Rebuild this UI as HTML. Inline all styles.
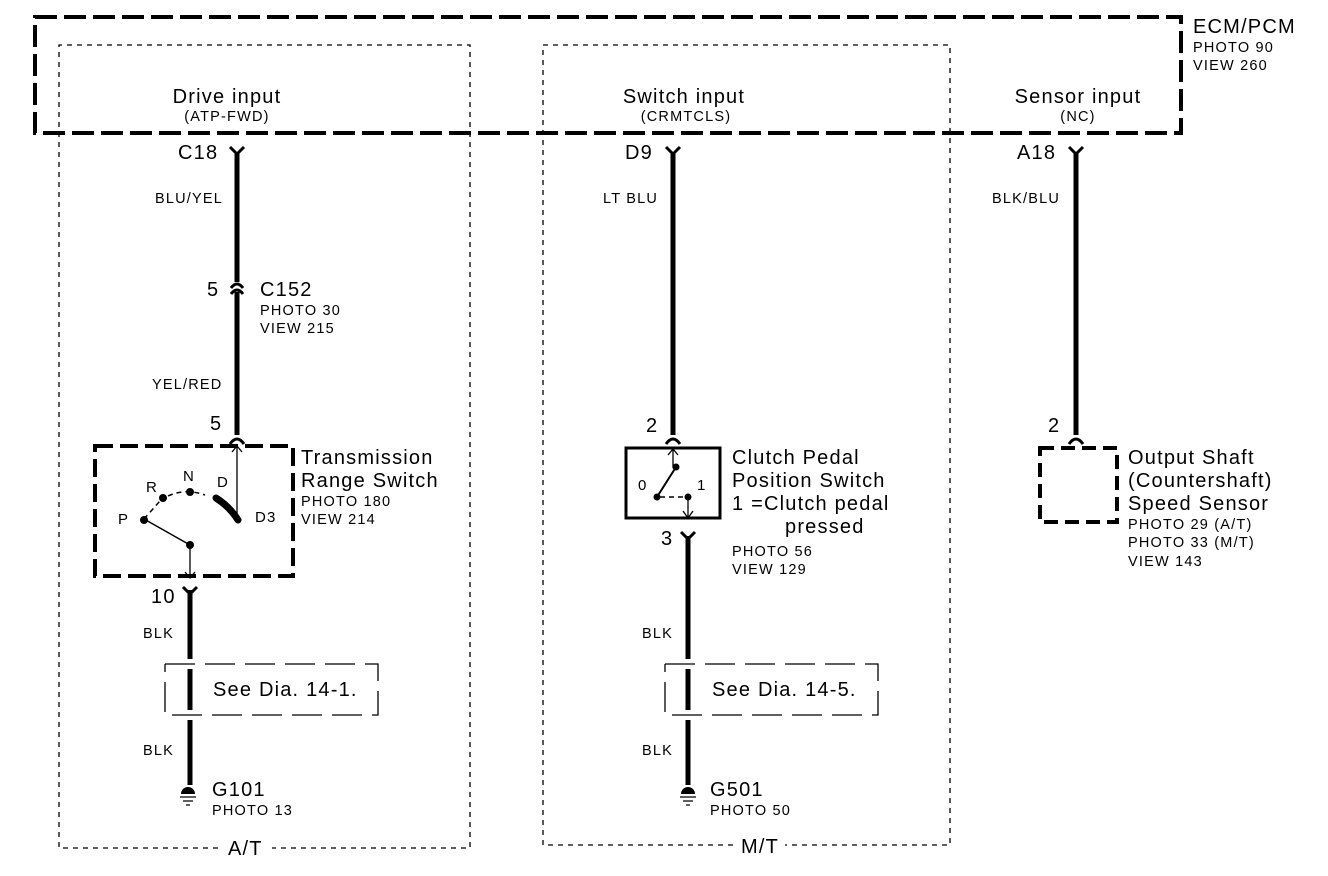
<!DOCTYPE html>
<html><head><meta charset="utf-8"><style>
html,body{margin:0;padding:0;background:#fff;}
svg{display:block;font-family:"Liberation Sans",Arial,sans-serif;}
text{fill:#000;letter-spacing:1.2px;}
.l{font-size:20px;}
.s{font-size:14.5px;}
.m{font-size:15px;}
</style></head><body>
<svg width="1328" height="876" viewBox="0 0 1328 876" xmlns="http://www.w3.org/2000/svg">
<!-- ECM box -->
<rect x="35" y="17" width="1146" height="116" fill="none" stroke="#000" stroke-width="4" stroke-dasharray="22,7"/>
<text class="l" x="1193" y="33">ECM/PCM</text>
<text class="s" x="1193" y="52">PHOTO 90</text>
<text class="s" x="1193" y="70">VIEW 260</text>
<!-- dotted boxes -->
<path d="M218,848 H59 V45 H470 V848 H272" fill="none" stroke="#000" stroke-width="1.3" stroke-dasharray="5,5"/>
<path d="M733,845 H543 V45 H950 V845 H785" fill="none" stroke="#000" stroke-width="1.3" stroke-dasharray="5,5"/>
<text class="l" x="228" y="855">A/T</text>
<text class="l" x="741" y="853">M/T</text>
<!-- headers -->
<text class="l" x="227" y="103" text-anchor="middle">Drive input</text>
<text class="s" x="227" y="121" text-anchor="middle">(ATP-FWD)</text>
<text class="l" x="684" y="103" text-anchor="middle">Switch input</text>
<text class="s" x="686" y="121" text-anchor="middle">(CRMTCLS)</text>
<text class="l" x="1078" y="103" text-anchor="middle">Sensor input</text>
<text class="s" x="1078" y="121" text-anchor="middle">(NC)</text>

<g stroke="#000" fill="none">
<!-- wire 1 -->
<line x1="237" y1="152" x2="237" y2="282" stroke-width="5"/>
<line x1="237" y1="292" x2="237" y2="435" stroke-width="5"/>
<path d="M230,147 L237,154 L244,147" stroke-width="3"/>
<path d="M231,288 Q237,280 243,288 M231,294 Q237,286 243,294" stroke-width="3"/>
<path d="M230,444 Q237,434 244,444" stroke-width="3"/>
<rect x="95" y="446" width="198" height="130" stroke-width="4" stroke-dasharray="18,7"/>
<line x1="237" y1="446" x2="237" y2="515" stroke-width="1.3"/>
<path d="M232,452 L237,446 L242,452" stroke-width="1.3"/>
<path d="M216,498 Q230,507 238,520" stroke-width="7" stroke-linecap="round"/>
<path d="M144,519 L160,501 M168,496 Q185,488 205,495" stroke-width="1.5" stroke-dasharray="5,4"/>
<line x1="144" y1="519" x2="190" y2="545" stroke-width="1.5"/>
<line x1="190" y1="545" x2="190" y2="578" stroke-width="1.3"/>
<path d="M185,572 L190,578 L195,572" stroke-width="1.3"/>
<path d="M183,587 L190,594 L197,587" stroke-width="3"/>
<line x1="190" y1="590" x2="190" y2="659" stroke-width="5"/>
<line x1="190" y1="669" x2="190" y2="710" stroke-width="5"/>
<line x1="190" y1="720" x2="190" y2="785" stroke-width="5"/>
<path d="M165,664 H378 V715 H165 V664" stroke-width="1.3" stroke-dasharray="30,10"/>
<!-- wire 2 -->
<line x1="673" y1="152" x2="673" y2="435" stroke-width="5"/>
<path d="M666,147 L673,154 L680,147" stroke-width="3"/>
<path d="M666,444 Q673,434 680,444" stroke-width="3"/>
<rect x="626" y="448" width="94" height="70" stroke-width="3"/>
<line x1="673" y1="449" x2="673" y2="468" stroke-width="1.3"/>
<path d="M668,455 L673,449 L678,455" stroke-width="1.3"/>
<line x1="676" y1="467" x2="657" y2="497" stroke-width="2"/>
<path d="M660,497 L684,497" stroke-width="1.5" stroke-dasharray="5,4"/>
<line x1="688" y1="497" x2="688" y2="518" stroke-width="1.3"/>
<path d="M683,511 L688,518 L693,511" stroke-width="1.3"/>
<path d="M681,532 L688,539 L695,532" stroke-width="3"/>
<line x1="688" y1="536" x2="688" y2="659" stroke-width="5"/>
<line x1="688" y1="669" x2="688" y2="710" stroke-width="5"/>
<line x1="688" y1="720" x2="688" y2="785" stroke-width="5"/>
<path d="M665,664 H878 V715 H665 V664" stroke-width="1.3" stroke-dasharray="30,10"/>
<!-- wire 3 -->
<line x1="1076" y1="152" x2="1076" y2="435" stroke-width="5"/>
<path d="M1069,147 L1076,154 L1083,147" stroke-width="3"/>
<path d="M1069,444 Q1076,434 1083,444" stroke-width="3"/>
<rect x="1040" y="448" width="77" height="74" stroke-width="4" stroke-dasharray="14,7"/>
<path d="M180,797 H196 M183,801 H193 M186,805 H190" stroke-width="1.3"/>
<path d="M680,797 H696 M683,801 H693 M686,805 H690" stroke-width="1.3"/>
</g>
<g fill="#000">
<circle cx="144" cy="520" r="4"/><circle cx="163" cy="498" r="4"/><circle cx="190" cy="492" r="4"/><circle cx="190" cy="545" r="4"/>
<circle cx="676" cy="467" r="3.5"/><circle cx="657" cy="497" r="3.5"/><circle cx="688" cy="497" r="3.5"/>
<path d="M181,794 A7,7 0 0 1 195,794 Z"/><path d="M681,794 A7,7 0 0 1 695,794 Z"/>
</g>

<text class="l" x="178" y="159">C18</text>
<text class="s" x="155" y="203">BLU/YEL</text>
<text class="l" x="207" y="296">5</text>
<text class="l" x="260" y="296">C152</text>
<text class="s" x="260" y="315">PHOTO 30</text>
<text class="s" x="260" y="333">VIEW 215</text>
<text class="s" x="152" y="389">YEL/RED</text>
<text class="l" x="210" y="430">5</text>
<text class="l" x="301" y="464">Transmission</text>
<text class="l" x="301" y="487">Range Switch</text>
<text class="s" x="301" y="506">PHOTO 180</text>
<text class="s" x="301" y="524">VIEW 214</text>
<text class="m" x="118" y="524">P</text>
<text class="m" x="146" y="492">R</text>
<text class="m" x="183" y="481">N</text>
<text class="m" x="217" y="487">D</text>
<text class="m" x="255" y="522">D3</text>
<text class="l" x="151" y="603">10</text>
<text class="s" x="143" y="638">BLK</text>
<text class="l" x="213" y="696">See Dia. 14-1.</text>
<text class="s" x="143" y="755">BLK</text>
<text class="l" x="212" y="796">G101</text>
<text class="s" x="212" y="815">PHOTO 13</text>

<text class="l" x="625" y="159">D9</text>
<text class="s" x="603" y="203">LT BLU</text>
<text class="l" x="646" y="432">2</text>
<text class="m" x="638" y="490">0</text>
<text class="m" x="697" y="490">1</text>
<text class="l" x="732" y="464">Clutch Pedal</text>
<text class="l" x="732" y="487">Position Switch</text>
<text class="l" x="732" y="510">1 =Clutch pedal</text>
<text class="l" x="785" y="533">pressed</text>
<text class="l" x="661" y="545">3</text>
<text class="s" x="732" y="556">PHOTO 56</text>
<text class="s" x="732" y="574">VIEW 129</text>
<text class="s" x="642" y="638">BLK</text>
<text class="l" x="712" y="696">See Dia. 14-5.</text>
<text class="s" x="642" y="755">BLK</text>
<text class="l" x="710" y="796">G501</text>
<text class="s" x="710" y="815">PHOTO 50</text>

<text class="l" x="1017" y="159">A18</text>
<text class="s" x="992" y="203">BLK/BLU</text>
<text class="l" x="1048" y="432">2</text>
<text class="l" x="1128" y="464">Output Shaft</text>
<text class="l" x="1128" y="487">(Countershaft)</text>
<text class="l" x="1128" y="510">Speed Sensor</text>
<text class="s" x="1128" y="529">PHOTO 29 (A/T)</text>
<text class="s" x="1128" y="547">PHOTO 33 (M/T)</text>
<text class="s" x="1128" y="566">VIEW 143</text>
</svg>
</body></html>
